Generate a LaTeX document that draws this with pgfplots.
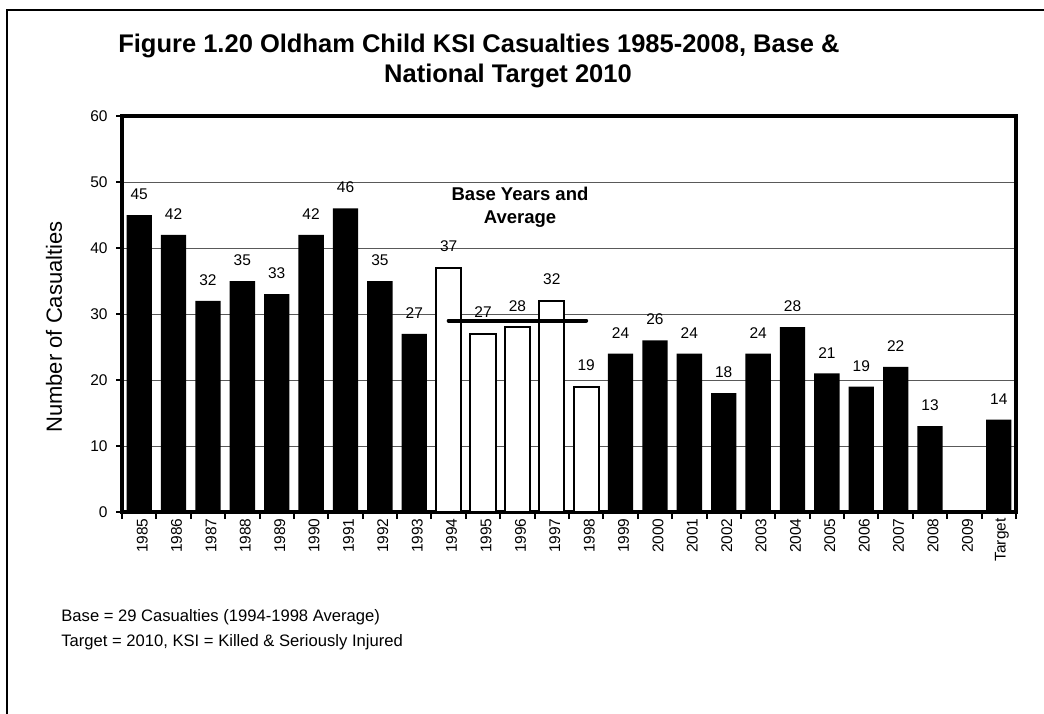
\documentclass[border=0pt]{standalone}
\usepackage{fontspec}
\setmainfont{Liberation Sans}
\usepackage{pgfplots}
\pgfplotsset{compat=1.18}
\begin{document}
\begin{tikzpicture}[x=0.5pt,y=0.5pt]
\useasboundingbox (0,0) rectangle (1044,713);
\draw[line width=1pt] (7,-20) -- (7,703) -- (1060,703);
\begin{axis}[
  at={(61pt,100.5pt)}, anchor=south west, scale only axis,
  width=447pt, height=198pt,
  xmin=-0.5, xmax=25.5, ymin=0, ymax=60,
  ytick={0,10,...,60},
  xtick={0,...,25},
  xticklabels={1985,1986,1987,1988,1989,1990,1991,1992,1993,1994,1995,1996,1997,1998,1999,2000,2001,2002,2003,2004,2005,2006,2007,2008,2009,Target},
  minor xtick={-0.5,0.5,...,25.5},
  xtick pos=bottom, ytick pos=left,
  tick align=outside, major tick length=3pt, minor tick length=3.5pt,
  every major x tick/.style={draw=none},
  tick style={black, line width=1pt},
  axis line style={line width=2pt},
  ymajorgrids, grid style={black!65, line width=0.5pt},
  /pgf/number format/assume math mode=true,
  ticklabel style={font=\fontsize{7.75}{9}\selectfont},
  xticklabel style={rotate=90, anchor=east, inner sep=0pt, yshift=-1.5pt},
  yticklabel style={inner sep=0pt, xshift=-4pt},
  every node near coord/.style={font=\fontsize{7.75}{9}\selectfont, anchor=south, inner sep=0pt, yshift=7.5pt, black},
  clip=false,
]
\addplot[ybar, bar width=0.736, bar shift=0pt, fill=black, draw=none, nodes near coords] coordinates {
(0,45) (1,42) (2,32) (3,35) (4,33) (5,42) (6,46) (7,35) (8,27)
(14,24) (15,26) (16,24) (17,18) (18,24) (19,28) (20,21) (21,19) (22,22) (23,13)
(25,14)};
\addplot[ybar, bar width=0.736, bar shift=0pt, fill=white, draw=black, line width=1pt, nodes near coords] coordinates {
(9,37) (10,27) (11,28) (12,32) (13,19)};
\addplot[line width=2pt, line cap=round] coordinates {(9,29) (13,29)};
\end{axis}
\node[font=\fontsize{12.75}{15}\selectfont\bfseries, anchor=base] at (479,660) {Figure 1.20 Oldham Child KSI Casualties 1985-2008, Base \&};
\node[font=\fontsize{12.75}{15}\selectfont\bfseries, anchor=base] at (508,630) {National Target 2010};
\node[font=\fontsize{11}{13}\selectfont, rotate=90, anchor=base] at (62,386) {Number of Casualties};
\node[font=\fontsize{9.25}{11}\selectfont\bfseries, anchor=base] at (520,512) {Base Years and};
\node[font=\fontsize{9.25}{11}\selectfont\bfseries, anchor=base] at (520,489) {Average};
\node[font=\fontsize{8.3}{10}\selectfont, anchor=base west, inner sep=0pt] at (61,92) {Base = 29 Casualties (1994-1998 Average)};
\node[font=\fontsize{8.3}{10}\selectfont, anchor=base west, inner sep=0pt] at (61,67) {Target = 2010, KSI = Killed \& Seriously Injured};
\end{tikzpicture}
\end{document}
